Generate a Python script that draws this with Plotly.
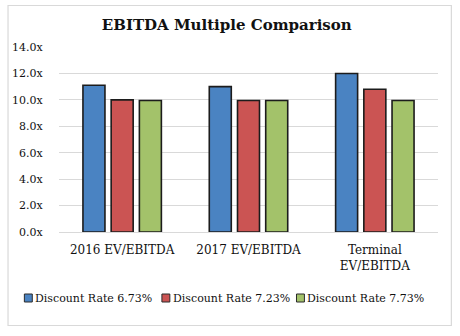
import plotly.graph_objects as go

# Chart data
categories = ["2016 EV/EBITDA", "2017 EV/EBITDA", "Terminal<br>EV/EBITDA"]
series_names = ["Discount Rate 6.73%", "Discount Rate 7.23%", "Discount Rate 7.73%"]
rate_673 = [11.1, 11.0, 12.0]
rate_723 = [10.0, 9.95, 10.8]
rate_773 = [9.95, 9.95, 9.95]
y_ticks = [0, 2, 4, 6, 8, 10, 12, 14]
y_tick_labels = ["0.0x", "2.0x", "4.0x", "6.0x", "8.0x", "10.0x", "12.0x", "14.0x"]

colors = ["#4A83C2", "#CB5453", "#A3C26A"]
FONT = "DejaVu Serif"

W, H = 460, 336
L, R, T, B = 55, 22, 47, 104
pw, ph = W - L - R, H - T - B


def px_x(px):
    return (px - L) / pw


def px_y(py):
    return (H - B - py) / ph


fig = go.Figure()
for name, vals, col in zip(series_names, [rate_673, rate_723, rate_773], colors):
    fig.add_trace(go.Bar(
        x=categories, y=vals, name=name,
        marker=dict(color=col, line=dict(color="#1c1c1c", width=1.6)),
        showlegend=False,
    ))

shapes = [
    # outer chart frame
    dict(type="rect", xref="paper", yref="paper",
         x0=px_x(3.5), x1=px_x(451.5), y0=px_y(5.5), y1=px_y(325.5),
         line=dict(color="#d9d9d9", width=1.2), fillcolor="rgba(0,0,0,0)", layer="below"),
]
annotations = []

# legend drawn as swatches with text
legend_x = [20, 159, 295]
for lx, name, col in zip(legend_x, series_names, colors):
    shapes.append(dict(type="rect", xref="paper", yref="paper",
                       x0=px_x(lx), x1=px_x(lx + 8), y0=px_y(302), y1=px_y(294),
                       fillcolor=col, line=dict(color="#2a2a2a", width=1)))
    annotations.append(dict(xref="paper", yref="paper", x=px_x(lx + 9), y=px_y(298),
                            text=name, showarrow=False, xanchor="left", yanchor="middle",
                            font=dict(family=FONT, size=11, color="#111")))

fig.update_layout(
    width=W, height=H,
    margin=dict(l=L, r=R, t=T, b=B),
    paper_bgcolor="white", plot_bgcolor="white",
    barmode="group", bargap=0.33, bargroupgap=0.22,
    title=dict(text="<b>EBITDA Multiple Comparison</b>", x=0.493, xanchor="center",
               y=1 - 25 / H, yanchor="middle",
               font=dict(family=FONT, size=15, color="#111")),
    font=dict(family=FONT, size=11, color="#111"),
    shapes=shapes, annotations=annotations,
    xaxis=dict(showgrid=False, showline=False, ticks="outside", ticklen=7,
               tickcolor="rgba(0,0,0,0)", tickfont=dict(family=FONT, size=12)),
    yaxis=dict(range=[0, 14], tickvals=y_ticks, ticktext=y_tick_labels,
               showgrid=True, gridcolor="#d9d9d9", gridwidth=1,
               zeroline=True, zerolinecolor="#d9d9d9", zerolinewidth=1,
               showline=False, ticks="outside", ticklen=13,
               tickcolor="rgba(0,0,0,0)", tickfont=dict(family=FONT, size=11)),
)

fig.write_html("out.html")
